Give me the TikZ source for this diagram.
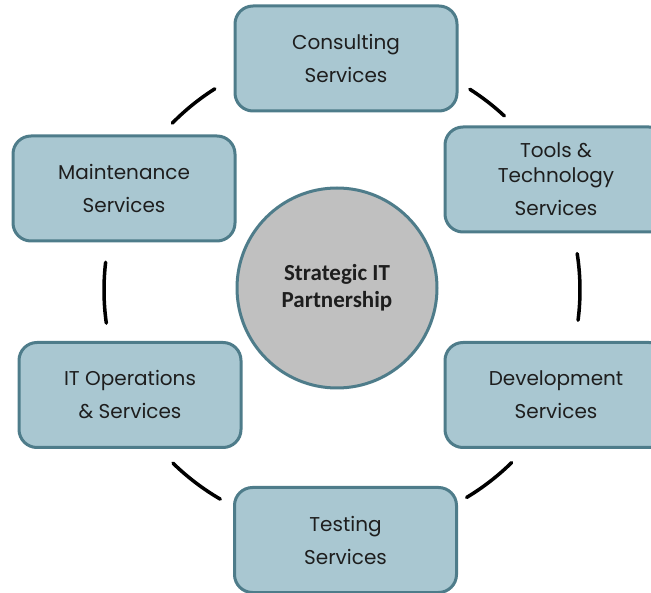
\documentclass[tikz,border=0pt]{standalone}
\usepackage{fontspec}
\setmainfont{Poppins}
\newfontfamily\hubfont{Carlito}
\definecolor{boxfill}{RGB}{169,199,209}
\definecolor{boxline}{RGB}{78,124,138}
\definecolor{circfill}{RGB}{192,192,192}
\definecolor{txt}{RGB}{30,30,30}
\begin{document}
\begin{tikzpicture}[x=1pt,y=1pt,
  svcbox/.style={draw=boxline, line width=3pt, fill=boxfill, rounded corners=18pt,
    minimum width=222pt, minimum height=105pt, align=center, inner sep=0pt,
    font=\fontsize{20}{33}\selectfont, text=txt},
  hub/.style={circle, draw=boxline, line width=3pt, fill=circfill, minimum size=200pt,
    align=center, inner sep=0pt, font=\hubfont\bfseries\fontsize{23}{27}\selectfont, text=txt},
  link/.style={line width=3.5pt, line cap=round, black}]
\useasboundingbox (0,0) rectangle (651,-593);
\clip (0,0) rectangle (651,-593);
\coordinate (ring) at (342,-290);
\node[hub] (hubc) at (337,-288) {Strategic IT\\Partnership};
\node[svcbox] (cons) at (346,-58.5) {Consulting\\Services};
\node[svcbox] (tools) at (556,-179.5) {Tools \&\\[-8pt]Technology\\Services};
\node[svcbox] (dev) at (556,-395) {Development\\Services};
\node[svcbox] (test) at (345.5,-540) {Testing\\Services};
\node[svcbox] (itops) at (130,-395) {IT Operations\\\& Services};
\node[svcbox] (maint) at (124,-188.5) {Maintenance\\Services};
\draw[link] ([shift={(135.5:238)}]ring) arc[start angle=135.5, end angle=122.3, radius=238];
\draw[link] ([shift={(57.5:238)}]ring) arc[start angle=57.5, end angle=47, radius=238];
\draw[link] ([shift={(8.8:238)}]ring) arc[start angle=8.8, end angle=-7.3, radius=238];
\draw[link] ([shift={(-45.5:242)}]ring) arc[start angle=-45.5, end angle=-59, radius=242];
\draw[link] ([shift={(-134.3:242)}]ring) arc[start angle=-134.3, end angle=-120.2, radius=242];
\draw[link] ([shift={(173.3:238)}]ring) arc[start angle=173.3, end angle=188, radius=238];
\end{tikzpicture}
\end{document}
